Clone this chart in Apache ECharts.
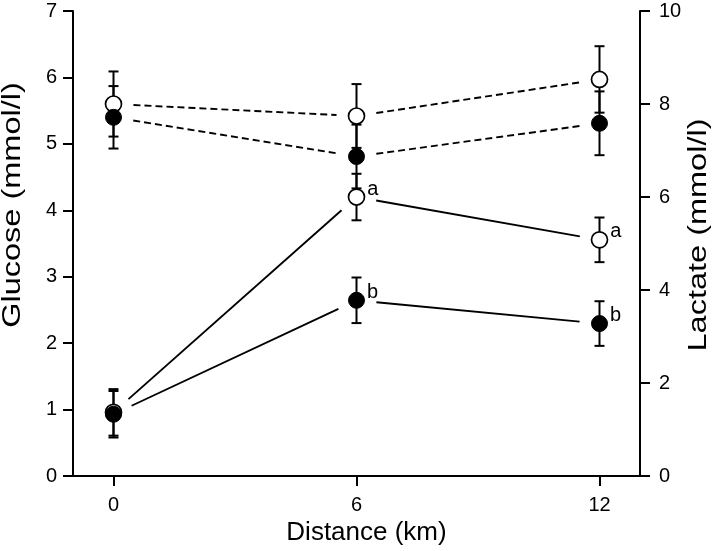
<!DOCTYPE html>
<html>
<head>
<meta charset="utf-8">
<script src="https://cdn.jsdelivr.net/npm/echarts@6/dist/echarts.min.js"></script>
<style>
  html, body { margin: 0; padding: 0; background: #fff; }
  #chart { width: 715px; height: 551px; }
</style>
</head>
<body>
<div id="chart"></div>
<script>
// 数据
var distance = [0, 6, 12];
// glucose, left axis (mmol/l) - dashed lines
var glucoseOpen = [5.6, 5.42, 5.97];
var glucoseOpenErr = [0.49, 0.48, 0.5];
var glucoseFilled = [5.4, 4.81, 5.31];
var glucoseFilledErr = [0.47, 0.48, 0.48];
// lactate, right axis (mmol/l) - solid lines
var lactateOpen = [1.37, 6.0, 5.08];
var lactateOpenErr = [0.5, 0.5, 0.48];
var lactateFilled = [1.33, 3.78, 3.28];
var lactateFilledErr = [0.5, 0.49, 0.48];
var lactateOpenMarks = ['', 'a', 'a'];
var lactateFilledMarks = ['', 'b', 'b'];
var xTicks = [0, 6, 12];

var FONT = "'Liberation Sans', Arial, Helvetica, sans-serif";

// 点数据
function points(vals, marks) {
    return distance.map(function (d, i) {
        return { value: [d, vals[i]], mark: marks ? marks[i] : '' };
    });
}
// 线段数据
function segments(vals) {
    var out = [];
    for (var i = 0; i < distance.length - 1; i++) {
        out.push([distance[i], vals[i], distance[i + 1], vals[i + 1]]);
    }
    return out;
}
// 误差线数据
function errors(vals, errs) {
    return distance.map(function (d, i) {
        return [d, vals[i] - errs[i], vals[i] + errs[i]];
    });
}

// line segments that stop short of the markers
function renderSegment(dashed) {
    return function (params, api) {
        var p0 = api.coord([api.value(0), api.value(1)]);
        var p1 = api.coord([api.value(2), api.value(3)]);
        var dx = p1[0] - p0[0], dy = p1[1] - p0[1];
        var len = Math.sqrt(dx * dx + dy * dy);
        var gap = 20;
        var ux = dx / len, uy = dy / len;
        return {
            type: 'line',
            shape: {
                x1: p0[0] + ux * gap, y1: p0[1] + uy * gap,
                x2: p1[0] - ux * gap, y2: p1[1] - uy * gap
            },
            style: {
                stroke: '#000',
                lineWidth: 1.9,
                lineDash: dashed ? [7, 4] : null
            }
        };
    };
}

function renderError(params, api) {
    var lo = api.coord([api.value(0), api.value(1)]);
    var hi = api.coord([api.value(0), api.value(2)]);
    var w = 5;
    var st = { stroke: '#000', lineWidth: 2 };
    return {
        type: 'group',
        children: [
            { type: 'line', shape: { x1: lo[0], y1: lo[1], x2: hi[0], y2: hi[1] }, style: st },
            { type: 'line', shape: { x1: lo[0] - w, y1: lo[1], x2: lo[0] + w, y2: lo[1] }, style: st },
            { type: 'line', shape: { x1: hi[0] - w, y1: hi[1], x2: hi[0] + w, y2: hi[1] }, style: st }
        ]
    };
}

function lineSeries(vals, yIdx, dashed) {
    return {
        type: 'custom', xAxisIndex: 0, yAxisIndex: yIdx, z: 2, silent: true,
        renderItem: renderSegment(dashed),
        encode: { x: [0, 2], y: [1, 3] },
        data: segments(vals)
    };
}
function errSeries(vals, errs, yIdx) {
    return {
        type: 'custom', xAxisIndex: 0, yAxisIndex: yIdx, z: 3, silent: true,
        renderItem: renderError,
        encode: { x: 0, y: [1, 2] },
        data: errors(vals, errs)
    };
}
function dotSeries(vals, yIdx, open, marks) {
    return {
        type: 'scatter', xAxisIndex: 0, yAxisIndex: yIdx, z: 5, silent: true,
        symbol: 'circle', symbolSize: 16,
        itemStyle: open
            ? { color: '#fff', borderColor: '#000', borderWidth: 1.7, opacity: 1 }
            : { color: '#000', borderColor: '#000', borderWidth: 1, opacity: 1 },
        label: {
            show: !!marks,
            position: 'right',
            distance: 2,
            offset: [0, -8],
            fontSize: 20,
            fontFamily: FONT,
            color: '#000',
            opacity: 1,
            formatter: function (p) { return p.data.mark; }
        },
        data: points(vals, marks)
    };
}

var axisLine = { show: true, onZero: false, lineStyle: { color: '#000', width: 2 } };
var axisTick = { show: true, length: 10, lineStyle: { color: '#000', width: 2 } };

var option = {
    animation: false,
    backgroundColor: '#fff',
    textStyle: { fontFamily: FONT, fontSize: 20, color: '#000' },
    grid: { left: 73, right: 75, top: 11, bottom: 73 },
    xAxis: {
        type: 'value', min: -1, max: 13,
        axisLine: axisLine,
        axisTick: { show: true, length: 10, customValues: xTicks, lineStyle: { color: '#000', width: 2 } },
        axisLabel: { customValues: xTicks, fontSize: 20, margin: 19, color: '#000', fontFamily: FONT },
        splitLine: { show: false },
        name: 'Distance (km)',
        nameLocation: 'middle',
        nameGap: 43,
        nameTextStyle: { fontSize: 26, color: '#000', fontFamily: FONT, padding: [0, 0, 0, 20] }
    },
    yAxis: [
        {
            type: 'value', position: 'left', min: 0, max: 7, interval: 1,
            axisLine: axisLine, axisTick: axisTick, splitLine: { show: false },
            axisLabel: { fontSize: 20, margin: 16, color: '#000', fontFamily: FONT }
        },
        {
            type: 'value', position: 'right', min: 0, max: 10, interval: 2,
            axisLine: axisLine, axisTick: axisTick, splitLine: { show: false },
            axisLabel: { fontSize: 20, margin: 19, color: '#000', fontFamily: FONT }
        }
    ],
    graphic: [
        {
            type: 'text', x: 13, y: 205, rotation: Math.PI / 2, scaleX: 1.3,
            style: { text: 'Glucose (mmol/l)', fontSize: 25, fontFamily: FONT, fill: '#000', align: 'center', verticalAlign: 'middle' }
        },
        {
            type: 'text', x: 699, y: 235, rotation: Math.PI / 2, scaleX: 1.3,
            style: { text: 'Lactate (mmol/l)', fontSize: 25, fontFamily: FONT, fill: '#000', align: 'center', verticalAlign: 'middle' }
        }
    ],
    series: [
        lineSeries(glucoseOpen, 0, true),
        lineSeries(glucoseFilled, 0, true),
        lineSeries(lactateOpen, 1, false),
        lineSeries(lactateFilled, 1, false),
        errSeries(glucoseOpen, glucoseOpenErr, 0),
        errSeries(glucoseFilled, glucoseFilledErr, 0),
        errSeries(lactateOpen, lactateOpenErr, 1),
        errSeries(lactateFilled, lactateFilledErr, 1),
        dotSeries(glucoseOpen, 0, true),
        dotSeries(lactateOpen, 1, true, lactateOpenMarks),
        dotSeries(glucoseFilled, 0, false),
        dotSeries(lactateFilled, 1, false, lactateFilledMarks)
    ]
};

var mychart = echarts.init(document.getElementById('chart'));
mychart.setOption(option);
</script>
</body>
</html>
